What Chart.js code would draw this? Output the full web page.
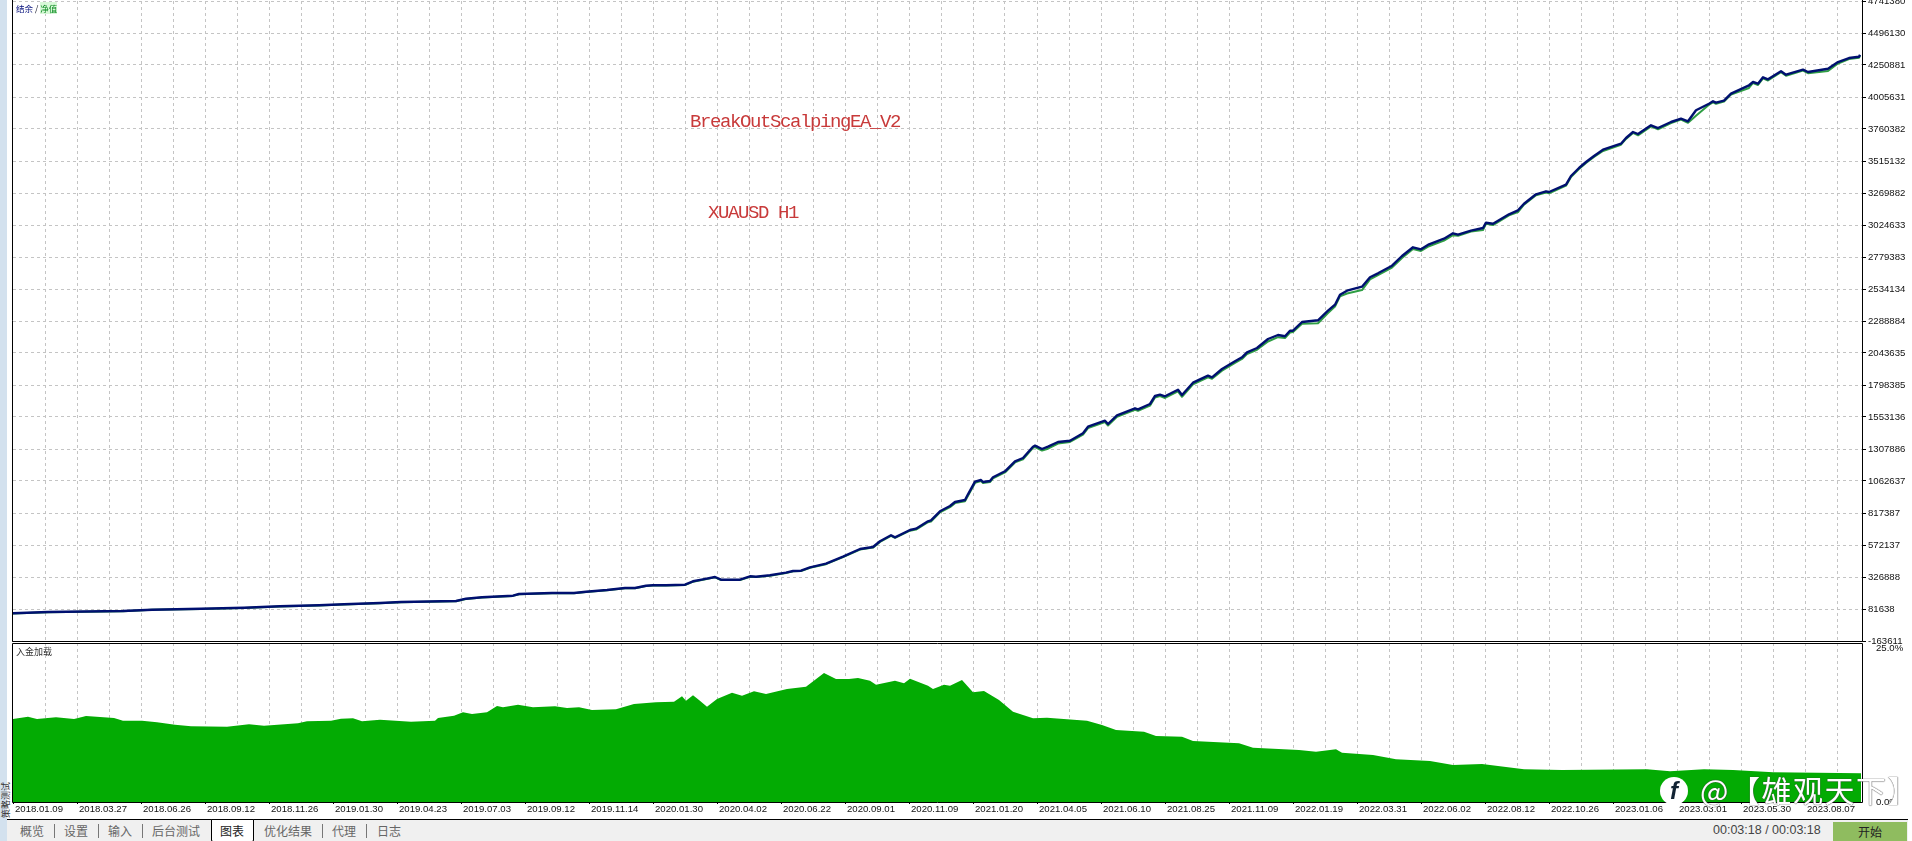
<!DOCTYPE html>
<html>
<head>
<meta charset="utf-8">
<script src="https://cdn.jsdelivr.net/npm/chart.js@4"></script>
<style>
  html, body { margin: 0; padding: 0; background: #fff; overflow: hidden; }
  body { width: 1912px; height: 841px; position: relative; font-family: "Noto Sans CJK SC", "Liberation Sans", sans-serif; }
  canvas { position: absolute; left: 0; }
  #chartTop { top: 0; }
  #chartBottom { top: 640px; }
  .abs { position: absolute; white-space: nowrap; }
  #sidebar { left: 0; top: 0; width: 7px; height: 841px; background: #d3e1ee; }
  #sideText { left: -1px; top: 818px; font-size: 9px; color: #333; transform: rotate(-90deg); transform-origin: left top; }
  .note { font-family: "Liberation Mono", monospace; font-size: 19px; letter-spacing: -1.4px; color: #c83a3a; }
  #legendTop { left: 16px; top: 2px; font-size: 8.5px; line-height: 12px; color: #223; }
  #legendTop .bal { color: #000c7a; }
  #legendTop .eq { color: #0a8a20; background: #d8f8d8; }
  #legendBottom { left: 16px; top: 646px; font-size: 9px; line-height: 12px; color: #333; }
  #tabs { left: 7px; top: 819px; width: 1901px; height: 22px; background: #f0f0f0; border-top: 1px solid #000; box-sizing: border-box; }
  .tab { position: absolute; top: 822px; font-size: 12px; line-height: 17px; color: #666; }
  .sep { position: absolute; top: 824px; width: 1px; height: 14px; background: #777; }
  #tabActive { position: absolute; left: 211px; top: 819px; width: 41px; height: 21px; background: #fff; border: 1px solid #000; border-top: 1px solid #000; border-bottom-left-radius: 2px; border-bottom-right-radius: 2px; }
  #timer { left: 1713px; top: 822px; font-family: "Liberation Sans", sans-serif; font-size: 12.5px; line-height: 17px; color: #444; }
  #startBtn { left: 1833px; top: 822px; width: 74px; height: 19px; background: #8fbc5f; color: #222; font-size: 12px; line-height: 19px; text-align: center; }
  #wmLogo { left: 1660px; top: 777px; width: 28px; height: 28px; border-radius: 50%; background: #fff; color: #123; font: italic bold 24px/28px "Liberation Sans", sans-serif; text-align: center; }
  #wmText { left: 1700px; top: 770px; color: #fff; font-size: 30px; letter-spacing: 1.5px; line-height: 38px; text-shadow: 0 0 1px #444, 0 0 1px #444; }
</style>
</head>
<body>
<div class="abs" id="sidebar"></div>
<div class="abs" id="sideText">策略测试</div>
<canvas id="chartTop" width="1912" height="660"></canvas>
<canvas id="chartBottom" width="1912" height="182"></canvas>
<div class="abs note" style="left:690px;top:111px">BreakOutScalpingEA_V2</div>
<div class="abs note" style="left:708px;top:202px">XUAUSD H1</div>
<div class="abs" id="legendTop"><span class="bal">结余</span> / <span class="eq">净值</span></div>
<div class="abs" id="legendBottom">入金加载</div>
<div class="abs" id="tabs"></div>
<div id="tabActive"></div>
<span class="tab" style="left:20px">概览</span><i class="sep" style="left:54px"></i>
<span class="tab" style="left:64px">设置</span><i class="sep" style="left:98px"></i>
<span class="tab" style="left:108px">输入</span><i class="sep" style="left:142px"></i>
<span class="tab" style="left:152px">后台测试</span>
<span class="tab" style="left:220px;color:#222">图表</span>
<span class="tab" style="left:264px">优化结果</span><i class="sep" style="left:322px"></i>
<span class="tab" style="left:332px">代理</span><i class="sep" style="left:366px"></i>
<span class="tab" style="left:377px">日志</span>
<div class="abs" id="timer">00:03:18 / 00:03:18</div>
<div class="abs" id="startBtn">开始</div>
<div class="abs" id="wmLogo">f</div>
<div class="abs" id="wmText">@【雄观天下】</div>

<script>
/* ==================== DATA ==================== */
const dateLabels = [
  "2018.01.09", "2018.03.27", "2018.06.26", "2018.09.12", "2018.11.26", "2019.01.30",
  "2019.04.23", "2019.07.03", "2019.09.12", "2019.11.14", "2020.01.30", "2020.04.02",
  "2020.06.22", "2020.09.01", "2020.11.09", "2021.01.20", "2021.04.05", "2021.06.10",
  "2021.08.25", "2021.11.09", "2022.01.19", "2022.03.31", "2022.06.02", "2022.08.12",
  "2022.10.26", "2023.01.06", "2023.03.01", "2023.05.30", "2023.08.07"
];

const equityTicks = [
  4741380, 4496130, 4250881, 4005631, 3760382, 3515132, 3269882, 3024633, 2779383, 2534134, 2288884,
  2043635, 1798385, 1553136, 1307886, 1062637, 817387, 572137, 326888, 81638, -163611
];

// sample index along the test run
const sampleIdx = [
  0, 35, 110, 139, 188, 231, 267, 306, 331, 367,
  388, 443, 453, 469, 500, 506, 539, 561, 573, 594,
  612, 622, 633, 640, 653, 672, 680, 690, 702, 708,
  727, 737, 743, 757, 773, 780, 788, 797, 813, 830,
  847, 860, 867, 878, 882, 897, 903, 915, 918, 927,
  937, 942, 952, 955, 962, 968, 970, 977, 980, 992,
  1002, 1010, 1020, 1022, 1029, 1035, 1045, 1057, 1070, 1075,
  1092, 1095, 1104, 1122, 1125, 1137, 1142, 1147, 1152, 1165,
  1169, 1180, 1195, 1199, 1209, 1222, 1229, 1234, 1244, 1255,
  1265, 1272, 1277, 1280, 1289, 1305, 1315, 1322, 1327, 1334,
  1349, 1357, 1365, 1379, 1389, 1400, 1408, 1416, 1431, 1440,
  1445, 1458, 1470, 1473, 1480, 1496, 1505, 1511, 1523, 1533,
  1536, 1553, 1558, 1566, 1573, 1581, 1590, 1608, 1613, 1620,
  1625, 1638, 1645, 1658, 1668, 1675, 1683, 1696, 1700, 1703,
  1711, 1718, 1736, 1740, 1745, 1750, 1755, 1768, 1773, 1790,
  1795, 1815, 1825, 1836, 1846, 1847
];

const balance = [
  48700, 58600, 66300, 76300, 83900, 91600, 102300, 110000, 117600, 127600,
  135300, 143000, 160600, 171300, 183600, 196600, 204200, 204200, 214200, 227200,
  242600, 242600, 260200, 263300, 263300, 267900, 294000, 309200, 327000, 306200,
  306200, 332200, 329200, 340000, 360000, 373000, 375200, 401200, 428800, 482500,
  541500, 556800, 600500, 646500, 631100, 687100, 697100, 753800, 761400, 830400,
  871000, 901700, 917000, 960700, 1057300, 1070300, 1055000, 1062600, 1091000, 1137000,
  1213600, 1238900, 1325500, 1333200, 1307900, 1325500, 1361500, 1371500, 1428200, 1478800,
  1524800, 1499500, 1566100, 1619700, 1612100, 1652700, 1714100, 1724100, 1711800, 1762300,
  1721700, 1816000, 1869600, 1857400, 1921000, 1980000, 2010600, 2049000, 2082000, 2151000,
  2181600, 2171600, 2214500, 2214500, 2281200, 2294200, 2367800, 2413800, 2490400, 2521100,
  2551700, 2623800, 2654400, 2712700, 2787000, 2853700, 2838400, 2876700, 2919600, 2961000,
  2950300, 2981000, 3001600, 3042200, 3034600, 3106600, 3137300, 3187800, 3259900, 3282900,
  3277500, 3333500, 3400100, 3461400, 3507400, 3553400, 3601700, 3647700, 3691400, 3737400,
  3722000, 3788700, 3768000, 3814000, 3839300, 3819400, 3903700, 3954200, 3972600, 3961900,
  3977200, 4030900, 4095300, 4120600, 4107500, 4156600, 4141200, 4202600, 4176500, 4214800,
  4197200, 4222500, 4273800, 4304500, 4314500, 4329800
];

const equity = [
  47000, 57000, 65000, 75000, 82000, 90000, 101000, 108000, 116000, 126000,
  134000, 141000, 159000, 169000, 182000, 195000, 202000, 202000, 212000, 225000,
  241000, 240000, 258000, 261000, 261000, 265000, 291000, 306000, 324000, 303000,
  303000, 329000, 326000, 337000, 357000, 370000, 372000, 398000, 425000, 479000,
  537000, 552000, 596000, 642000, 627000, 682000, 690000, 747000, 752000, 822000,
  862000, 893000, 908000, 950000, 1048000, 1062000, 1047000, 1054000, 1082000, 1128000,
  1205000, 1228000, 1316000, 1322000, 1296000, 1310000, 1350000, 1362000, 1418000, 1468000,
  1514000, 1488000, 1555000, 1608000, 1600000, 1640000, 1703000, 1713000, 1699000, 1750000,
  1708000, 1804000, 1857000, 1846000, 1908000, 1968000, 1998000, 2036000, 2068000, 2132000,
  2165000, 2158000, 2200000, 2205000, 2268000, 2272000, 2350000, 2400000, 2478000, 2500000,
  2526000, 2608000, 2640000, 2698000, 2772000, 2840000, 2826000, 2862000, 2905000, 2946000,
  2942000, 2974000, 2986000, 3034000, 3024000, 3098000, 3124000, 3180000, 3252000, 3274000,
  3268000, 3326000, 3393000, 3454000, 3500000, 3546000, 3592000, 3640000, 3684000, 3730000,
  3712000, 3781000, 3758000, 3806000, 3832000, 3808000, 3862000, 3947000, 3965000, 3954000,
  3970000, 4024000, 4075000, 4113000, 4098000, 4149000, 4132000, 4196000, 4168000, 4208000,
  4188000, 4205000, 4262000, 4296000, 4307000, 4322000
];

const loadIdx = [
  0, 15, 24, 43, 61, 73, 101, 110, 129, 144,
  162, 178, 214, 236, 251, 285, 294, 318, 328, 340,
  349, 367, 398, 422, 425, 441, 450, 459, 474, 484,
  490, 505, 520, 542, 554, 566, 579, 603, 621, 643,
  661, 669, 673, 680, 686, 694, 704, 719, 729, 741,
  753, 774, 793, 811, 823, 836, 845, 857, 863, 882,
  891, 897, 915, 920, 931, 937, 949, 960,
  971, 986, 1000, 1020, 1034, 1074, 1089, 1103, 1131, 1143,
  1169, 1180, 1226, 1240, 1286, 1303, 1323, 1329, 1360, 1383,
  1417, 1440, 1469, 1511, 1549, 1634, 1657, 1691, 1720, 1760, 1848
];

// deposit load, percent
const depositLoad = [
  13.05, 13.42, 13.05, 13.31, 13.05, 13.52, 13.21, 12.79, 12.79, 12.53,
  12.16, 11.9, 11.85, 12.21, 12.0, 12.37, 12.69, 12.79, 13.1, 13.16,
  12.69, 12.95, 12.63, 12.79, 13.21, 13.58, 14.1, 13.84, 14.1, 15.1,
  14.89, 15.31, 14.89, 15.04, 14.78, 14.89, 14.47, 14.57, 15.41, 15.67,
  15.78, 16.62, 15.93, 16.77, 16.04, 14.99, 16.2, 17.19, 16.72, 17.4,
  16.98, 17.77, 18.14, 20.28, 19.34, 19.34, 19.5, 19.08, 18.45, 19.08,
  18.66, 19.39, 18.29, 17.77, 18.45, 18.29, 19.18, 17.25,
  17.45, 16.04, 14.2, 13.15, 13.26, 12.79, 12.11, 11.32, 11.06, 10.38,
  10.27, 9.59, 9.22, 8.54, 8.18, 7.91, 8.28, 7.76, 7.39, 6.71,
  6.45, 5.82, 5.98, 5.14, 5.03, 5.14, 4.82, 5.14, 5.03, 4.66, 4.51
];

const loadTicks = [0, 25];

/* ==================== SHARED OPTIONS ==================== */
const LAST_IDX = 1850;
const GRID_STEP = 32;
const LABEL_STEP = 64;
const gridTicks = [];
for (let v = 0; v <= LAST_IDX; v += GRID_STEP) gridTicks.push({ value: v });

const tickFont = { family: "Liberation Sans", size: 9.6 };
const GRID_COLOR = "#c4c4c4";

// black frame round each panel, the top one runs off the window so it has no top edge
const framePlugin = {
  id: "frame",
  afterDatasetsDraw(chart) {
    const { ctx, chartArea: a } = chart;
    const l = a.left - 0.5, r = a.right - 0.5, t = a.top + 0.5, b = a.bottom + 0.5;
    ctx.save();
    ctx.strokeStyle = "#000";
    ctx.lineWidth = 1;
    ctx.beginPath();
    if (chart.canvas.id === "chartBottom") {
      ctx.moveTo(l, b); ctx.lineTo(l, t); ctx.lineTo(r, t); ctx.lineTo(r, b);
    } else {
      ctx.moveTo(l, 0); ctx.lineTo(l, b); ctx.lineTo(r, b); ctx.lineTo(r, 0);
    }
    ctx.moveTo(l, b); ctx.lineTo(r, b);
    ctx.stroke();
    ctx.restore();
  }
};

function xGridColor(ctx) {
  return ctx.tick && ctx.tick.value === 0 ? "transparent" : GRID_COLOR;
}

// fixed axis width, and no extra room for the half labels at both ends
function fitRightAxis(s) {
  s.width = 49;
  s.paddingTop = 0;
  s.paddingBottom = 0;
}

function baseOptions(padding) {
  return {
    responsive: false,
    animation: false,
    devicePixelRatio: 1,
    layout: { padding, autoPadding: false },
    plugins: { legend: { display: false }, tooltip: { enabled: false } },
    elements: { point: { radius: 0 }, line: { tension: 0, borderJoinStyle: "round" } }
  };
}

/* ==================== EQUITY PANEL ==================== */
new Chart(document.getElementById("chartTop"), {
  type: "line",
  data: {
    datasets: [
      {
        label: "结余",
        data: sampleIdx.map((x, i) => ({ x, y: balance[i] })),
        borderColor: "#001070",
        borderWidth: 2.4
      },
      {
        label: "净值",
        data: sampleIdx.map((x, i) => ({ x, y: equity[i] })),
        borderColor: "#2f9e44",
        borderWidth: 2
      }
    ]
  },
  options: {
    ...baseOptions({ left: 13, top: 1, bottom: 19, right: 0 }),
    scales: {
      x: {
        type: "linear",
        min: 0,
        max: LAST_IDX,
        afterBuildTicks: (s) => { s.ticks = gridTicks.slice(); },
        grid: { color: xGridColor, drawTicks: false },
        border: { display: false, dash: [3, 3] },
        ticks: { display: false }
      },
      y: {
        position: "right",
        min: equityTicks[equityTicks.length - 1],
        max: equityTicks[0],
        afterBuildTicks: (s) => { s.ticks = equityTicks.map((value) => ({ value })); },
        afterFit: fitRightAxis,
        grid: { color: GRID_COLOR, tickColor: "#000", tickLength: 3 },
        border: { display: false, dash: [3, 3] },
        ticks: {
          color: "#111",
          font: tickFont,
          padding: 2,
          autoSkip: false,
          callback: (v) => String(v)
        }
      }
    }
  },
  plugins: [framePlugin]
});

/* ==================== DEPOSIT LOAD PANEL ==================== */
new Chart(document.getElementById("chartBottom"), {
  type: "line",
  data: {
    datasets: [{
      label: "入金加载",
      data: loadIdx.map((x, i) => ({ x, y: depositLoad[i] })),
      borderColor: "#03ab03",
      backgroundColor: "#03ab03",
      borderWidth: 0,
      fill: "origin"
    }]
  },
  options: {
    ...baseOptions({ left: 13, top: 3, bottom: 0, right: 0 }),
    scales: {
      x: {
        type: "linear",
        min: 0,
        max: LAST_IDX,
        afterBuildTicks: (s) => { s.ticks = gridTicks.slice(); },
        afterFit: (s) => { s.height = 20; },
        grid: {
          color: xGridColor,
          tickColor: (ctx) => (ctx.tick && ctx.tick.value % LABEL_STEP === 0 ? "#000" : "transparent"),
          tickLength: 2
        },
        border: { display: false, dash: [3, 3] },
        ticks: {
          color: "#111",
          font: tickFont,
          align: "start",
          labelOffset: 2,
          padding: 0,
          autoSkip: false,
          maxRotation: 0,
          minRotation: 0,
          callback: (v) => (v % LABEL_STEP === 0 ? dateLabels[v / LABEL_STEP] : "")
        }
      },
      y: {
        position: "right",
        min: 0,
        max: 25,
        afterBuildTicks: (s) => { s.ticks = loadTicks.map((value) => ({ value })); },
        afterFit: fitRightAxis,
        grid: { display: false },
        border: { display: false },
        ticks: {
          color: "#111",
          font: tickFont,
          padding: 5,
          autoSkip: false,
          // top label sits just under the frame line
          callback: (v) => (v === 25 ? ["", "25.0%"] : "0.0%")
        }
      }
    }
  },
  plugins: [framePlugin]
});
</script>
</body>
</html>
